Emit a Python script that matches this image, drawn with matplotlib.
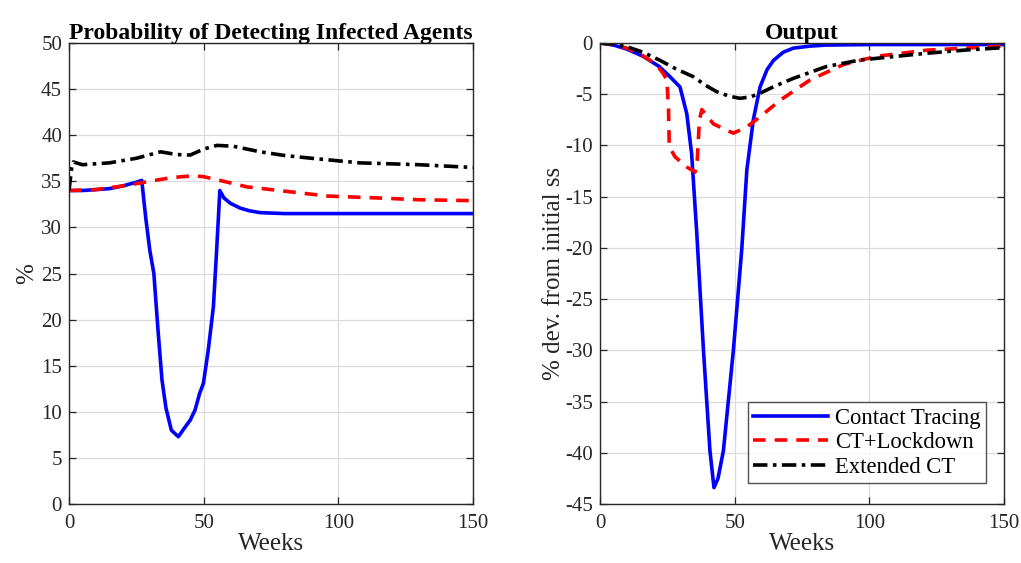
import matplotlib
matplotlib.use("Agg")
import matplotlib.pyplot as plt
import numpy as np

plt.rcParams['font.family'] = ['Liberation Serif', 'DejaVu Serif']
plt.rcParams['axes.unicode_minus'] = False

# ---- Left panel: probability of detecting infected agents (%) ----
ct_prob_weeks = [0, 5, 10, 15, 20, 25, 27, 28.5, 30, 31.5, 33, 34.5, 36, 38, 40.6, 43, 45, 46.8, 48.5, 49.9, 51.7, 53.6, 54.8, 56, 57.5, 60, 63.5, 67, 71, 80, 100, 120, 150]
ct_prob_vals = [34.0, 34.0, 34.1, 34.2, 34.5, 34.9, 35.1, 31.0, 27.5, 25.0, 19.0, 13.5, 10.4, 8.0, 7.3, 8.3, 9.1, 10.2, 12.0, 13.1, 16.7, 21.4, 27.5, 34.0, 33.2, 32.6, 32.1, 31.8, 31.6, 31.5, 31.5, 31.5, 31.5]

lock_prob_weeks = [0, 10, 20, 30, 38, 46, 50, 56, 66, 81, 96, 114, 130, 150]
lock_prob_vals = [34.0, 34.1, 34.5, 35.0, 35.4, 35.6, 35.5, 35.1, 34.4, 33.9, 33.4, 33.2, 33.0, 32.9]

ext_prob_weeks = [0, 1, 1.6, 5, 15, 25, 34, 40, 45, 50, 55, 61, 71, 80, 90, 108, 130, 150]
ext_prob_vals = [34.0, 36.5, 37.1, 36.8, 37.0, 37.5, 38.2, 37.9, 37.85, 38.5, 38.9, 38.8, 38.2, 37.8, 37.5, 37.0, 36.8, 36.5]

# ---- Right panel: output (% dev. from initial ss) ----
ct_out_weeks = [0, 5, 10, 16, 22, 26, 29.7, 32.2, 34, 35.9, 38.4, 40.8, 42.3, 43.8, 45.8, 49.5, 52.6, 54.5, 56.9, 59.4, 62, 64.4, 68, 71.8, 78, 84, 100, 150]
ct_out_vals = [0.0, -0.2, -0.6, -1.3, -2.3, -3.3, -4.3, -6.9, -10.8, -18.5, -30.0, -39.8, -43.4, -42.5, -39.8, -30.0, -20.2, -12.4, -7.5, -4.3, -2.6, -1.7, -0.9, -0.5, -0.3, -0.2, -0.15, -0.15]

lock_out_weeks = [0, 5, 9.9, 15, 18.6, 21.5, 23.5, 24.8, 25.4, 25.7, 27.8, 32.2, 35.3, 36.1, 36.9, 37.8, 42.1, 49.5, 54.5, 59.4, 66.8, 78, 90.4, 102.7, 121.3, 150]
lock_out_vals = [0.0, -0.15, -0.5, -1.1, -1.7, -2.3, -3.0, -3.6, -6.2, -10.1, -11.1, -12.1, -12.6, -11.4, -7.5, -6.5, -7.9, -8.8, -8.2, -7.2, -5.6, -3.6, -2.1, -1.3, -0.7, -0.3]

ext_out_weeks = [0, 5, 9.9, 16, 22.3, 28, 34.7, 39, 43.3, 48, 52, 56, 59.4, 65, 71.8, 84, 96.5, 110, 121.3, 135, 150]
ext_out_vals = [0.0, -0.1, -0.36, -0.9, -1.7, -2.5, -3.3, -4.1, -4.75, -5.2, -5.4, -5.25, -4.9, -4.2, -3.45, -2.3, -1.66, -1.3, -1.0, -0.7, -0.45]

labels = ["Contact Tracing", "CT+Lockdown", "Extended CT"]

fig = plt.figure(figsize=(10.21, 5.63), dpi=100)
ax1 = fig.add_axes([0.0676, 0.1048, 0.3957, 0.8188])
ax2 = fig.add_axes([0.5877, 0.1048, 0.3957, 0.8188])

lw = 2.6
fs = 15
lfs = 18

def style(ax):
    ax.set_xlim(0, 150)
    ax.set_xticks([0, 50, 100, 150])
    ax.grid(True, color='#dcdcdc', linewidth=0.9)
    ax.set_axisbelow(True)
    ax.tick_params(direction='in', top=True, right=True, labelsize=fs, length=5, width=0.9, colors='#262626', labelcolor='#262626')
    ax.tick_params(axis='x', pad=7)
    ax.tick_params(axis='y', pad=5)
    for s in ax.spines.values():
        s.set_color('#262626')
        s.set_linewidth(1.0)
    ax.set_xlabel("Weeks", fontsize=lfs, color='#262626', labelpad=0)

ax1.plot(ct_prob_weeks, ct_prob_vals, color='#0000ff', lw=lw, label=labels[0])
ax1.plot(lock_prob_weeks, lock_prob_vals, color='#ff0000', lw=lw, ls=(0, (3.5, 2.5)), label=labels[1])
ax1.plot(ext_prob_weeks, ext_prob_vals, color='black', lw=lw, ls=(0, (4, 1.5, 1, 1.5)), label=labels[2])
style(ax1)
ax1.set_ylim(0, 50)
ax1.set_yticks(np.arange(0, 51, 5))
ax1.set_ylabel("%", fontsize=lfs, color='#262626', labelpad=2)
ax1.set_title("Probability of Detecting Infected Agents", fontsize=17, fontweight='bold', pad=3)

ax2.plot(ct_out_weeks, ct_out_vals, color='#0000ff', lw=lw, label=labels[0])
ax2.plot(lock_out_weeks, lock_out_vals, color='#ff0000', lw=lw, ls=(0, (3.5, 2.5)), label=labels[1])
ax2.plot(ext_out_weeks, ext_out_vals, color='black', lw=lw, ls=(0, (4, 1.5, 1, 1.5)), label=labels[2])
style(ax2)
ax2.set_ylim(-45, 0)
ax2.set_yticks(np.arange(-45, 1, 5))
ax2.set_ylabel("% dev. from initial ss", fontsize=lfs, color='#262626', labelpad=0)
ax2.set_title("Output", fontsize=17, fontweight='bold', pad=3)

leg = ax2.legend(loc='lower right', bbox_to_anchor=(0.955, 0.045), fontsize=16.3, frameon=True, fancybox=False,
                 edgecolor='#262626', handlelength=3.3, handletextpad=0.3, borderpad=0.25, labelspacing=0.15,
                 borderaxespad=0.0)
leg.get_frame().set_linewidth(1.0)

fig.savefig("out.png", dpi=100)
